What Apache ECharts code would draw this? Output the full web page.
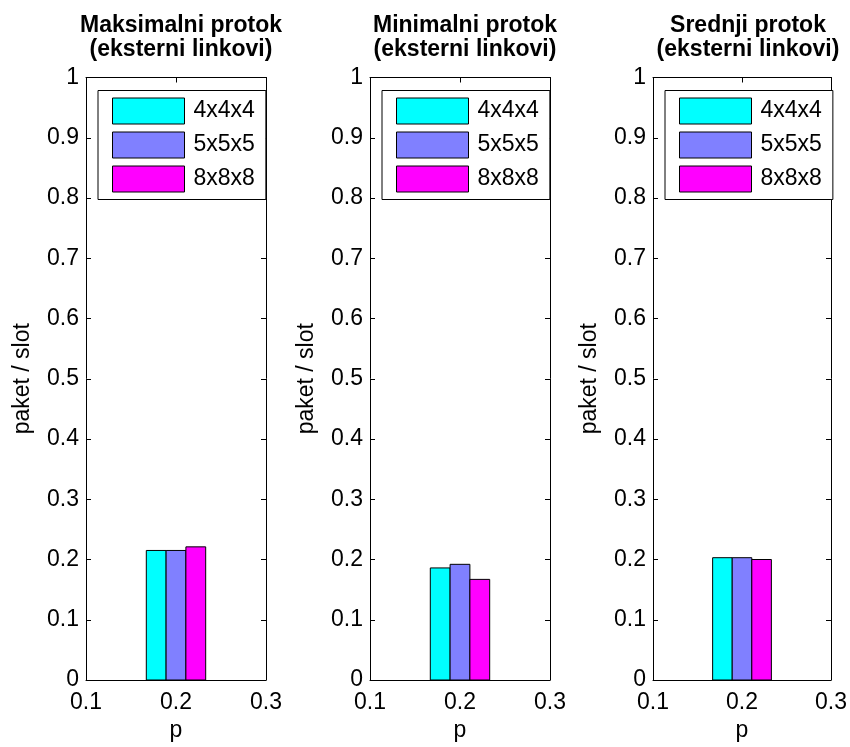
<!DOCTYPE html>
<html>
<head>
<meta charset="utf-8">
<script src="https://cdn.jsdelivr.net/npm/echarts@6/dist/echarts.min.js"></script>
<style>
  html, body { margin: 0; padding: 0; background: #fff; }
  #chart { width: 850px; height: 747px; }
</style>
</head>
<body>
<div id="chart"></div>
<script>
// Throughput per network size at p = 0.2
const pValues = [0.2];
const sizes = ['4x4x4', '5x5x5', '8x8x8'];
const panelTitles = [
  'Maksimalni protok\n(eksterni linkovi)',
  'Minimalni protok\n(eksterni linkovi)',
  'Srednji protok\n(eksterni linkovi)'
];
const maxFlow = [0.215, 0.215, 0.221];
const minFlow = [0.186, 0.192, 0.167];
const avgFlow = [0.203, 0.203, 0.200];
const panelValues = [maxFlow, minFlow, avgFlow];
const xTicks = [0.1, 0.2, 0.3];
const yTicks = [0, 0.1, 0.2, 0.3, 0.4, 0.5, 0.6, 0.7, 0.8, 0.9, 1];
const xLabel = 'p';
const yLabel = 'paket / slot';

const colors = ['#00FFFF', '#8080FF', '#FF00FF'];
const FONT = '"Liberation Sans", Arial, sans-serif';
const FS = 23;

const gridLefts = [86, 370, 653];
const gridTop = 77.5;
const gridW = 180;
const gridH = 603.5;
// grouped bars: the whole group spans 0.066 in p, split into equal bars
const groupWidth = 0.066;

const chart = echarts.init(document.getElementById('chart'), null, { renderer: 'canvas' });

const grids = [], xAxes = [], yAxes = [], series = [], titles = [], legends = [];

const boxLine = { show: true, onZero: false, lineStyle: { color: '#000', width: 1 } };
const tickIn = { show: true, inside: true, length: 5, lineStyle: { color: '#000', width: 1 } };

function groupedBar(k, count) {
  return function (params, api) {
    const p = api.value(0);
    const v = api.value(1);
    const w = groupWidth / count;
    const x0 = p - groupWidth / 2 + k * w;
    const a = api.coord([x0, v]);
    const b = api.coord([x0 + w, 0]);
    return {
      type: 'rect',
      shape: { x: a[0], y: a[1], width: b[0] - a[0], height: b[1] - a[1] },
      style: { fill: api.visual('color'), stroke: '#000', lineWidth: 1 }
    };
  };
}

panelValues.forEach((vals, i) => {
  grids.push({ left: gridLefts[i], top: gridTop, width: gridW, height: gridH, containLabel: false });

  titles.push({
    text: panelTitles[i],
    left: gridLefts[i] + gridW / 2,
    top: 9,
    textAlign: 'center',
    textStyle: { fontFamily: FONT, fontSize: FS, fontWeight: 'bold', color: '#000', lineHeight: 24 }
  });

  // bottom x axis with labels
  xAxes.push({
    type: 'value', gridIndex: i, position: 'bottom',
    min: xTicks[0], max: xTicks[xTicks.length - 1], interval: 0.1,
    axisLine: boxLine, axisTick: tickIn, splitLine: { show: false },
    axisLabel: { margin: 11, color: '#000', fontFamily: FONT, fontSize: FS, formatter: v => v.toFixed(1) },
    name: xLabel, nameLocation: 'middle', nameGap: 39,
    nameTextStyle: { color: '#000', fontFamily: FONT, fontSize: FS }
  });
  // top x axis: box edge with ticks only
  xAxes.push({
    type: 'value', gridIndex: i, position: 'top',
    min: xTicks[0], max: xTicks[xTicks.length - 1], interval: 0.1,
    axisLine: boxLine, axisTick: tickIn, splitLine: { show: false },
    axisLabel: { show: false }
  });
  // left y axis with labels
  yAxes.push({
    type: 'value', gridIndex: i, position: 'left',
    min: yTicks[0], max: yTicks[yTicks.length - 1], interval: 0.1,
    axisLine: boxLine, axisTick: tickIn, splitLine: { show: false },
    axisLabel: { margin: 7, color: '#000', fontFamily: FONT, fontSize: FS,
      formatter: v => String(Math.round(v * 10) / 10) },
    name: yLabel, nameLocation: 'middle', nameGap: 52, nameRotate: 90,
    nameTextStyle: { color: '#000', fontFamily: FONT, fontSize: FS }
  });
  // right y axis: box edge with ticks only
  yAxes.push({
    type: 'value', gridIndex: i, position: 'right',
    min: yTicks[0], max: yTicks[yTicks.length - 1], interval: 0.1,
    axisLine: boxLine, axisTick: tickIn, splitLine: { show: false },
    axisLabel: { show: false }
  });

  sizes.forEach((name, k) => {
    series.push({
      type: 'custom', name: name,
      xAxisIndex: 2 * i, yAxisIndex: 2 * i,
      data: pValues.map(p => [p, vals[k]]),
      encode: { x: 0, y: 1 },
      renderItem: groupedBar(k, sizes.length),
      itemStyle: { color: colors[k], borderColor: '#000', borderWidth: 1 },
      clip: true,
      animation: false
    });
  });

  legends.push({
    data: sizes,
    left: gridLefts[i] + 12,
    top: 90.5,
    orient: 'vertical',
    icon: 'rect',
    itemWidth: 72, itemHeight: 26, itemGap: 7,
    padding: [7, 11, 7, 14],
    backgroundColor: '#fff',
    borderColor: '#000', borderWidth: 1, borderRadius: 0,
    selectedMode: false,
    itemStyle: { borderColor: '#000', borderWidth: 1 },
    textStyle: { color: '#000', fontFamily: FONT, fontSize: FS, lineHeight: 26, padding: [0, 0, 0, 4] },
    z: 10
  });
});

chart.setOption({
  animation: false,
  color: colors,
  title: titles,
  legend: legends,
  grid: grids,
  xAxis: xAxes,
  yAxis: yAxes,
  series: series
});
</script>
</body>
</html>
